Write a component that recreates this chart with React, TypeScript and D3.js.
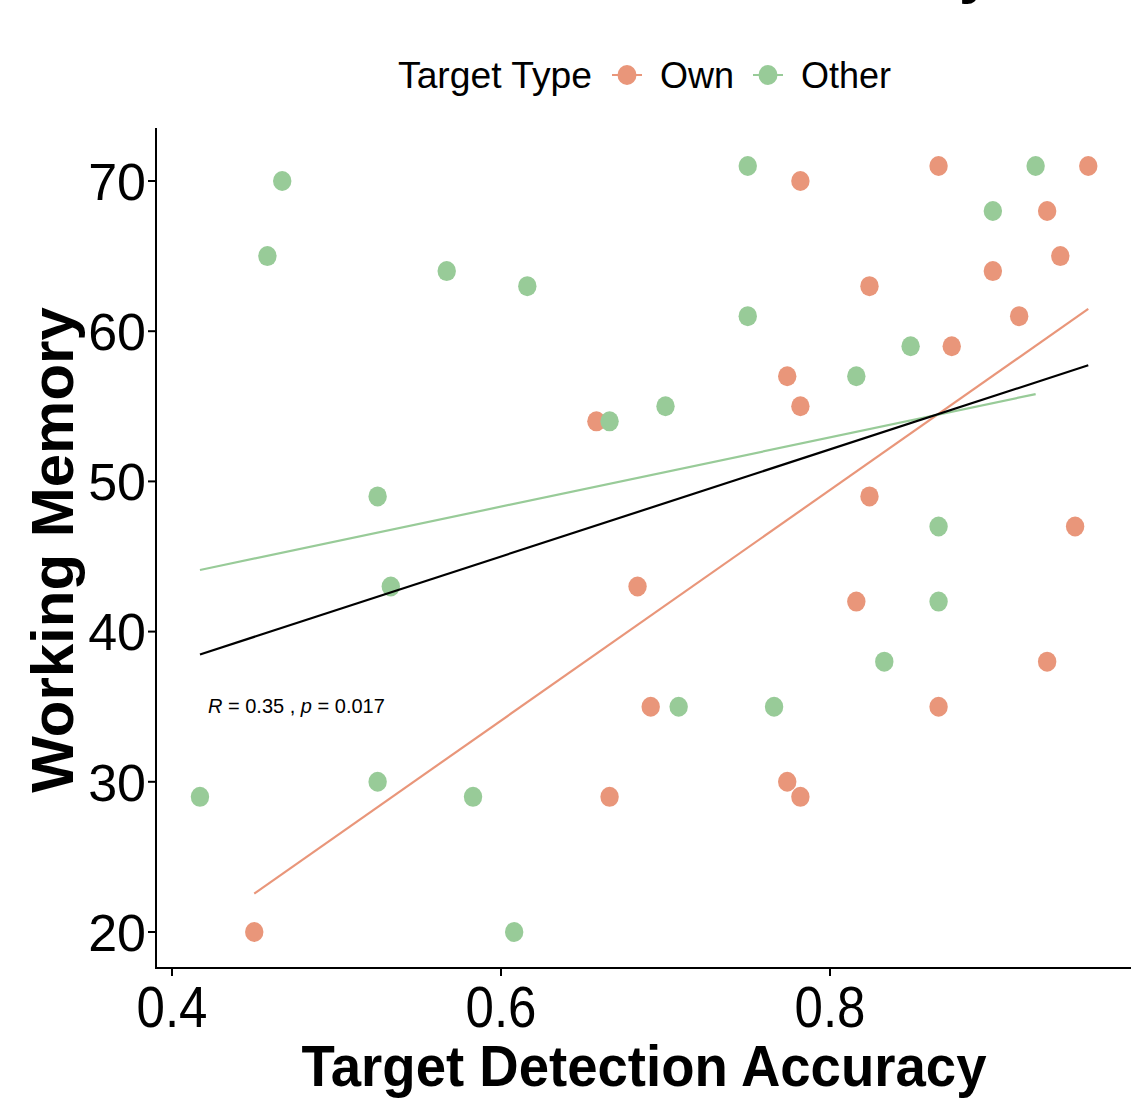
import React from "react";
import * as d3 from "d3";

const groups = ["Own", "Other"];
const groupColors = ["#E9967A", "#98CB98"];

const ownX = [0.866, 0.957, 0.782, 0.932, 0.899, 0.940, 0.824, 0.915, 0.874, 0.774, 0.782, 0.658, 0.824, 0.949, 0.683, 0.816, 0.932, 0.691, 0.866, 0.666, 0.774, 0.782, 0.450];
const ownY = [71, 71, 70, 68, 64, 65, 63, 61, 59, 57, 55, 54, 49, 47, 43, 42, 38, 35, 35, 29, 30, 29, 20];
const otherX = [0.467, 0.458, 0.567, 0.616, 0.750, 0.750, 0.925, 0.899, 0.849, 0.816, 0.700, 0.666, 0.525, 0.533, 0.866, 0.866, 0.833, 0.708, 0.766, 0.417, 0.525, 0.583, 0.608];
const otherY = [70, 65, 64, 63, 71, 61, 71, 68, 59, 57, 55, 54, 49, 43, 47, 42, 38, 35, 35, 29, 30, 29, 20];

const xTicks = [0.4, 0.6, 0.8];
const yTicks = [20, 30, 40, 50, 60, 70];
const xTitle = "Target Detection Accuracy";
const yTitle = "Working Memory";
const legendTitle = "Target Type";

function fit(xs: number[], ys: number[]) {
  const mx = d3.mean(xs) as number;
  const my = d3.mean(ys) as number;
  let sxy = 0, sxx = 0;
  xs.forEach((x, i) => { sxy += (x - mx) * (ys[i] - my); sxx += (x - mx) * (x - mx); });
  const b = sxy / sxx;
  const a = my - b * mx;
  const [x0, x1] = d3.extent(xs) as [number, number];
  return [[x0, a + b * x0], [x1, a + b * x1]] as [number, number][];
}

export default function App() {
  const x = d3.scaleLinear().domain([0.4, 0.8]).range([172, 830]);
  const y = d3.scaleLinear().domain([20, 70]).range([932, 181]);
  const line = d3.line<[number, number]>().x(d => x(d[0])).y(d => y(d[1]));

  const series = [
    { name: groups[0], color: groupColors[0], xs: ownX, ys: ownY },
    { name: groups[1], color: groupColors[1], xs: otherX, ys: otherY },
  ];
  const allX = [...ownX, ...otherX];
  const allY = [...ownY, ...otherY];

  const font = "'Liberation Sans', Arial, sans-serif";

  return (
    <svg width={1131} height={1099} style={{ position: "absolute", left: 0, top: 0, background: "#fff" }} fontFamily={font}>
      <rect x={0} y={0} width={1131} height={1099} fill="#fff" />
      {/* cut-off title fragment */}
      <text x={959} y={-8.5} fontSize={60} fontWeight="bold" fill="#000">y</text>

      {/* legend */}
      <text x={398} y={88} fontSize={36} textLength={194} lengthAdjust="spacingAndGlyphs" fill="#000">{legendTitle}</text>
      {series.map((s, i) => {
        const cx = i === 0 ? 627 : 768;
        return (
          <g key={s.name}>
            <line x1={cx - 15} x2={cx + 15} y1={75} y2={75} stroke={s.color} strokeWidth={2} />
            <ellipse cx={cx} cy={75} rx={9.5} ry={10} fill={s.color} />
            <text x={cx + 33} y={88} fontSize={36} fill="#000">{s.name}</text>
          </g>
        );
      })}

      {/* points */}
      {series.map(s => (
        <g key={"p" + s.name}>
          {s.xs.map((v, i) => (
            <ellipse key={i} cx={x(v)} cy={y(s.ys[i])} rx={9.2} ry={10} fill={s.color} />
          ))}
        </g>
      ))}

      {/* regression lines */}
      {series.map(s => (
        <path key={"l" + s.name} d={line(fit(s.xs, s.ys)) as string} fill="none" stroke={s.color} strokeWidth={2.2} />
      ))}
      <path d={line(fit(allX, allY)) as string} fill="none" stroke="#000" strokeWidth={2.2} />

      {/* annotation */}
      <text x={208} y={713} fontSize={20} fill="#000">
        <tspan fontStyle="italic">R</tspan>
        <tspan> = 0.35 , </tspan>
        <tspan fontStyle="italic">p</tspan>
        <tspan> = 0.017</tspan>
      </text>

      {/* axes */}
      <line x1={156} x2={156} y1={128} y2={969} stroke="#000" strokeWidth={2} />
      <line x1={155} x2={1131} y1={968} y2={968} stroke="#000" strokeWidth={2} />
      {yTicks.map(t => (
        <g key={"yt" + t}>
          <line x1={148} x2={156} y1={y(t)} y2={y(t)} stroke="#000" strokeWidth={2} />
          <text x={146} y={y(t)} dy="0.36em" textAnchor="end" fontSize={52} fill="#000">{t}</text>
        </g>
      ))}
      {xTicks.map(t => (
        <g key={"xt" + t}>
          <line x1={x(t)} x2={x(t)} y1={968} y2={976} stroke="#000" strokeWidth={2} />
          <text transform={`translate(${x(t)},1027) scale(0.88,1)`} textAnchor="middle" fontSize={58} fill="#000">{t.toFixed(1)}</text>
        </g>
      ))}

      {/* axis titles */}
      <text x={644} y={1086} textAnchor="middle" fontSize={57} fontWeight="bold" textLength={685} lengthAdjust="spacingAndGlyphs" fill="#000">{xTitle}</text>
      <text transform="translate(73,550) rotate(-90)" textAnchor="middle" fontSize={60} fontWeight="bold" fill="#000">{yTitle}</text>
    </svg>
  );
}
